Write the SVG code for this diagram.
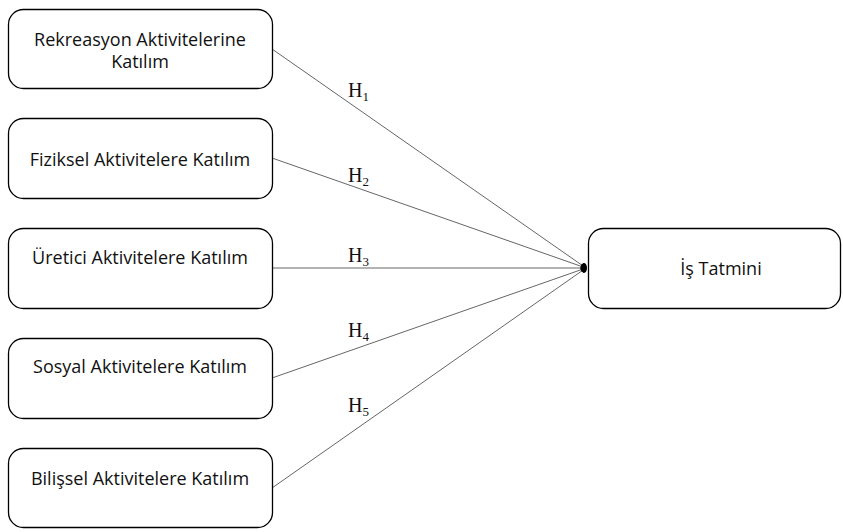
<svg xmlns="http://www.w3.org/2000/svg" width="843" height="532" viewBox="0 0 843 532">
<style>
.box{fill:#fff;stroke:#000;stroke-width:1.3}
.t{font-family:"Open Sans","Noto Sans",sans-serif;font-size:18px;fill:#111;text-anchor:middle}
.h{font-family:"Liberation Serif",serif;font-size:20px;fill:#111}
.sub{font-size:13px}
.c{stroke:#666;stroke-width:1;fill:none;marker-end:url(#ah)}
</style>
<defs>
<marker id="ah" viewBox="0 0 10 10" refX="9" refY="5" markerWidth="6" markerHeight="6" markerUnits="userSpaceOnUse" orient="auto">
<path d="M0,1 L10,5 L0,9 z" fill="#000"/>
</marker>
</defs>
<rect width="843" height="532" fill="#fff"/>
<g id="connectors">
<line class="c" x1="272" y1="49" x2="586" y2="268"/>
<line class="c" x1="272" y1="158" x2="586" y2="268"/>
<line class="c" x1="272" y1="268" x2="586" y2="268"/>
<line class="c" x1="272" y1="378" x2="586" y2="268"/>
<line class="c" x1="272" y1="488" x2="586" y2="268"/>
<ellipse cx="584" cy="268" rx="3" ry="5" fill="#000"/>
<text class="h" x="348" y="97">H<tspan class="sub" dy="4">1</tspan></text>
<text class="h" x="348" y="182">H<tspan class="sub" dy="4">2</tspan></text>
<text class="h" x="348" y="262">H<tspan class="sub" dy="4">3</tspan></text>
<text class="h" x="348" y="337">H<tspan class="sub" dy="4">4</tspan></text>
<text class="h" x="348" y="412">H<tspan class="sub" dy="4">5</tspan></text>
</g>
<g id="n1">
<rect class="box" x="8.5" y="9.5" width="264" height="79" rx="15"/>
<text class="t" x="140" y="46">Rekreasyon Aktivitelerine</text>
<text class="t" x="140" y="68">Katılım</text>
</g>
<g id="n2">
<rect class="box" x="8.5" y="118.5" width="264" height="80" rx="15"/>
<text class="t" x="140" y="166">Fiziksel Aktivitelere Katılım</text>
</g>
<g id="n3">
<rect class="box" x="8.5" y="228.5" width="264" height="80" rx="15"/>
<text class="t" x="140" y="264">Üretici Aktivitelere Katılım</text>
</g>
<g id="n4">
<rect class="box" x="8.5" y="338.5" width="264" height="80" rx="15"/>
<text class="t" x="140" y="373">Sosyal Aktivitelere Katılım</text>
</g>
<g id="n5">
<rect class="box" x="8.5" y="448.5" width="264" height="79" rx="15"/>
<text class="t" x="140" y="485">Bilişsel Aktivitelere Katılım</text>
</g>
<g id="n6">
<rect class="box" x="588.5" y="228.5" width="252" height="80" rx="15"/>
<text class="t" x="721" y="275">İş Tatmini</text>
</g>
</svg>
